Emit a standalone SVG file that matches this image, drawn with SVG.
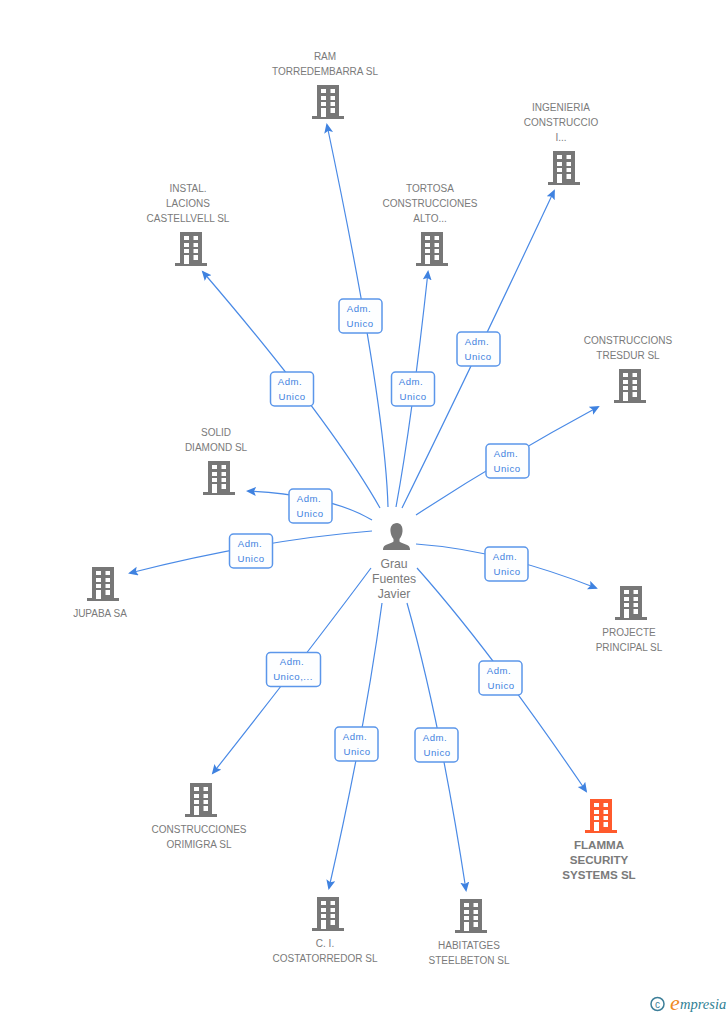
<svg xmlns="http://www.w3.org/2000/svg" width="728" height="1015" viewBox="0 0 728 1015">
<style>
.n{font-family:"Liberation Sans",Arial,sans-serif;font-size:10px;fill:#7a7a7a;text-anchor:middle}
.p{font-size:12.200px}
.b{font-weight:bold;font-size:11.600px}
.e{fill:none;stroke:#4a8ae6;stroke-width:1.2;marker-end:url(#a)}
.l{fill:#fdfeff;stroke:#5b96ea;stroke-width:1.5}
.t{font-family:"Liberation Sans",Arial,sans-serif;font-size:9.6px;letter-spacing:.5px;fill:#3f82e0;text-anchor:middle}
</style>
<defs>
<marker id="a" markerWidth="11" markerHeight="10" refX="8" refY="4.500" orient="auto" markerUnits="userSpaceOnUse"><path d="M0 0L10 4.500L0 9L2 4.500Z" fill="#3f82e0"/></marker>
<g id="bld"><path d="M5 0H27V31H32V34H0V31H5Z M9 4V8H14V4Z M18.500 4V8H23V4Z M9 11V15H14V11Z M18.500 11V15H23V11Z M9 17V21H14V17Z M18.500 17V21H23V17Z M9 23V32H14V23Z M18.500 23V28H23V23Z" fill="#777" fill-rule="evenodd"/></g>
<g id="bldo"><path d="M5 0H27V31H32V34H0V31H5Z M9 4V8H14V4Z M18.500 4V8H23V4Z M9 11V15H14V11Z M18.500 11V15H23V11Z M9 17V21H14V17Z M18.500 17V21H23V17Z M9 23V32H14V23Z M18.500 23V28H23V23Z" fill="#ff5a2c" fill-rule="evenodd"/></g>
<g id="lab"><rect class="l" x="0" y="0" width="43" height="34" rx="4"/></g>
</defs>
<g id="connectors">
<path class="e" d="M388 507Q385 400 327 125"/>
<path class="e" d="M396 507Q412 420 428 272"/>
<path class="e" d="M402 508Q470 370 554 191"/>
<path class="e" d="M380 508Q330 420 203 272"/>
<path class="e" d="M416 515Q500 460 598 407"/>
<path class="e" d="M372 520Q330 495 248 491"/>
<path class="e" d="M372 531Q260 540 130 573"/>
<path class="e" d="M416 544Q500 550 596 588"/>
<path class="e" d="M417 568Q490 650 586 791"/>
<path class="e" d="M371 568Q310 650 213 773"/>
<path class="e" d="M382 603Q365 730 329 888"/>
<path class="e" d="M407 603Q440 720 466 890"/>
</g>
<g id="person"><path d="M397 523c-4.500 0-7 3.500-6.500 8.500.3 3 1.500 5.500 3 7.500v2.500c-1 1.500-6.500 2.500-8.500 4-1.500 1-2 2.500-2 4.500h27c0-2-.5-3.500-2-4.500-2-1.500-7.500-2.500-8.500-4v-2.500c1.500-2 2.700-4.500 3-7.500.5-5-2-8.500-5.500-8.500z" fill="#777"/>
<text class="n p" x="394" y="568">Grau</text><text class="n p" x="394" y="583">Fuentes</text><text class="n p" x="394" y="598">Javier</text></g>
<g id="n1"><use href="#bld" x="312" y="85"/><text class="n" x="325" y="60">RAM</text><text class="n" x="325" y="75">TORREDEMBARRA SL</text></g>
<g id="n2"><use href="#bld" x="548" y="151"/><text class="n" x="561" y="111">INGENIERIA</text><text class="n" x="561" y="126">CONSTRUCCIO</text><text class="n" x="561" y="141">I...</text></g>
<g id="n3"><use href="#bld" x="175" y="232"/><text class="n" x="188" y="192">INSTAL.</text><text class="n" x="188" y="207">LACIONS</text><text class="n" x="188" y="222">CASTELLVELL SL</text></g>
<g id="n4"><use href="#bld" x="416" y="232"/><text class="n" x="430" y="192">TORTOSA</text><text class="n" x="430" y="207">CONSTRUCCIONES</text><text class="n" x="430" y="222">ALTO...</text></g>
<g id="n5"><use href="#bld" x="614" y="369"/><text class="n" x="628" y="344">CONSTRUCCIONS</text><text class="n" x="628" y="359">TRESDUR SL</text></g>
<g id="n6"><use href="#bld" x="203" y="461"/><text class="n" x="216" y="436">SOLID</text><text class="n" x="216" y="451">DIAMOND SL</text></g>
<g id="n7"><use href="#bld" x="87" y="567"/><text class="n" x="100" y="617">JUPABA SA</text></g>
<g id="n8"><use href="#bld" x="615" y="586"/><text class="n" x="629" y="636">PROJECTE</text><text class="n" x="629" y="651">PRINCIPAL SL</text></g>
<g id="n9"><use href="#bld" x="185" y="783"/><text class="n" x="199" y="833">CONSTRUCCIONES</text><text class="n" x="199" y="848">ORIMIGRA SL</text></g>
<g id="n10"><use href="#bld" x="312" y="897"/><text class="n" x="325" y="947">C. I.</text><text class="n" x="325" y="962">COSTATORREDOR SL</text></g>
<g id="n11"><use href="#bld" x="455" y="899"/><text class="n" x="469" y="949">HABITATGES</text><text class="n" x="469" y="964">STEELBETON SL</text></g>
<g id="n12"><use href="#bldo" x="585" y="799"/><text class="n b" x="599" y="849">FLAMMA</text><text class="n b" x="599" y="864">SECURITY</text><text class="n b" x="599" y="879">SYSTEMS SL</text></g>
<g id="labels">
<g id="e1"><use href="#lab" x="339" y="299"/><text class="t" x="359" y="312">Adm.</text><text class="t" x="360" y="327">Unico</text></g>
<g id="e2"><use href="#lab" x="391.500" y="372"/><text class="t" x="411" y="385">Adm.</text><text class="t" x="413" y="400">Unico</text></g>
<g id="e3"><use href="#lab" x="457" y="332"/><text class="t" x="477" y="345">Adm.</text><text class="t" x="478" y="360">Unico</text></g>
<g id="e4"><use href="#lab" x="270.500" y="372"/><text class="t" x="290" y="385">Adm.</text><text class="t" x="292" y="400">Unico</text></g>
<g id="e5"><use href="#lab" x="486" y="444"/><text class="t" x="506" y="457">Adm.</text><text class="t" x="507" y="472">Unico</text></g>
<g id="e6"><use href="#lab" x="289" y="489"/><text class="t" x="309" y="502">Adm.</text><text class="t" x="310" y="517">Unico</text></g>
<g id="e7"><use href="#lab" x="229.500" y="534"/><text class="t" x="250" y="547">Adm.</text><text class="t" x="251" y="562">Unico</text></g>
<g id="e8"><use href="#lab" x="485" y="547"/><text class="t" x="505" y="560">Adm.</text><text class="t" x="507" y="575">Unico</text></g>
<g id="e9"><use href="#lab" x="479" y="661"/><text class="t" x="499" y="674">Adm.</text><text class="t" x="501" y="689">Unico</text></g>
<g id="e10"><rect class="l" x="266.500" y="652.500" width="54" height="34" rx="4"/><text class="t" x="292" y="665">Adm.</text><text class="t" x="293" y="680">Unico,...</text></g>
<g id="e11"><use href="#lab" x="335" y="727"/><text class="t" x="355" y="740">Adm.</text><text class="t" x="357" y="755">Unico</text></g>
<g id="e12"><use href="#lab" x="415" y="728"/><text class="t" x="435" y="741">Adm.</text><text class="t" x="437" y="756">Unico</text></g>
</g>
<g id="logo"><circle cx="657.500" cy="1004" r="6.500" fill="none" stroke="#3d7f99" stroke-width="1.500"/><text x="657.500" y="1007.500" font-family="Liberation Sans,sans-serif" font-size="10px" fill="#3d7f99" text-anchor="middle">c</text><text x="670" y="1010" font-family="Liberation Serif,serif" font-style="italic" font-size="22px" fill="#f08a1e">e</text><text x="680" y="1009" font-family="Liberation Serif,serif" font-style="italic" font-size="14.500px" fill="#2f7f94">mpresia</text></g>
</svg>
